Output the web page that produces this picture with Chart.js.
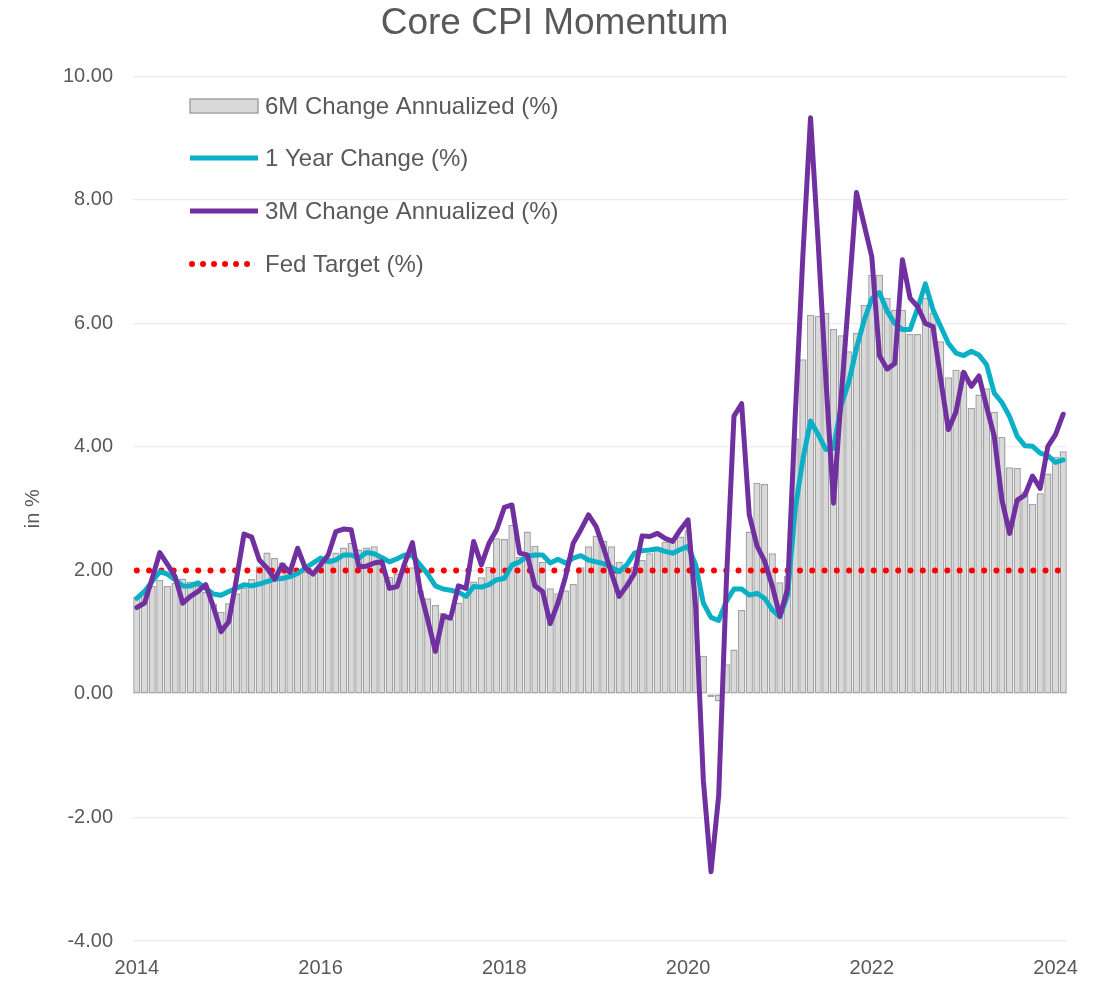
<!DOCTYPE html>
<html>
<head>
<meta charset="utf-8">
<title>Core CPI Momentum</title>
<script src="https://cdn.jsdelivr.net/npm/chart.js@4.4.1/dist/chart.umd.min.js"></script>
<style>
  html, body { margin: 0; padding: 0; background: #ffffff; }
  #wrap { width: 1109px; height: 984px; }
</style>
</head>
<body>
<div id="wrap"><canvas id="cpiChart" width="1109" height="984"></canvas></div>
<script>
// monthly readings, Feb 2014 .. Mar 2024
var startYear = 2014;
var startMonth = 2;

var sixMonth = [
  1.58, 1.62, 1.75, 1.85, 1.75, 1.80, 1.87, 1.82, 1.75, 1.65,
  1.46, 1.33, 1.47, 1.63, 1.72, 1.86, 2.07, 2.29, 2.20, 2.13,
  2.02, 2.00, 1.98, 2.00, 2.08, 2.20, 2.29, 2.37, 2.45, 2.34,
  2.37, 2.39, 2.20, 1.90, 1.95, 2.09, 2.05, 1.68, 1.55, 1.44,
  1.31, 1.21, 1.48, 1.60, 1.82, 1.89, 2.06, 2.52, 2.51, 2.74,
  2.22, 2.63, 2.40, 2.14, 1.71, 1.63, 1.68, 1.78, 2.05, 2.39,
  2.56, 2.48, 2.39, 2.14, 2.00, 2.06, 2.17, 2.28, 2.37, 2.47,
  2.49, 2.55, 2.65, 2.00, 0.62, -0.05, -0.12, 0.48, 0.72, 1.36,
  2.63, 3.42, 3.40, 2.28, 1.81, 1.91, 4.14, 5.42, 6.14, 6.12,
  6.17, 5.91, 5.81, 5.55, 5.85, 6.30, 6.79, 6.79, 6.41, 6.22,
  6.22, 5.83, 5.83, 6.41, 6.17, 5.71, 5.13, 5.25, 5.22, 4.63,
  4.85, 4.95, 4.57, 4.16, 3.67, 3.66, 3.28, 3.08, 3.25, 3.57,
  3.84, 3.93
];

var oneYear = [
  1.55, 1.66, 1.82, 1.98, 1.94, 1.85, 1.75, 1.75, 1.80, 1.71,
  1.62, 1.60, 1.66, 1.71, 1.77, 1.75, 1.78, 1.82, 1.86, 1.87,
  1.90, 1.95, 2.04, 2.12, 2.20, 2.14, 2.17, 2.25, 2.25, 2.20,
  2.29, 2.27, 2.21, 2.14, 2.19, 2.25, 2.24, 2.09, 1.94, 1.75,
  1.70, 1.68, 1.65, 1.58, 1.74, 1.73, 1.77, 1.85, 1.87, 2.09,
  2.14, 2.23, 2.25, 2.25, 2.12, 2.18, 2.12, 2.20, 2.24, 2.17,
  2.14, 2.11, 2.05, 1.98, 2.09, 2.28, 2.32, 2.33, 2.35, 2.31,
  2.28, 2.34, 2.39, 2.09, 1.47, 1.24, 1.19, 1.50, 1.70, 1.70,
  1.60, 1.63, 1.55, 1.36, 1.25, 1.60, 3.00, 3.80, 4.42, 4.20,
  3.96, 3.98, 4.67, 5.05, 5.60, 6.05, 6.40, 6.50, 6.20, 6.00,
  5.90, 5.90, 6.25, 6.64, 6.22, 5.95, 5.68, 5.52, 5.48, 5.55,
  5.49, 5.33, 4.87, 4.72, 4.49, 4.17, 4.02, 4.01, 3.90, 3.86,
  3.75, 3.79
];

var threeMonth = [
  1.40, 1.47, 1.87, 2.29, 2.10, 1.90, 1.47, 1.58, 1.66, 1.77,
  1.41, 1.01, 1.17, 1.85, 2.59, 2.54, 2.17, 2.04, 1.86, 2.09,
  1.97, 2.36, 2.04, 1.94, 2.09, 2.25, 2.63, 2.67, 2.66, 2.06,
  2.07, 2.12, 2.14, 1.71, 1.74, 2.12, 2.45, 1.68, 1.20, 0.69,
  1.26, 1.23, 1.75, 1.71, 2.47, 2.09, 2.44, 2.66, 3.02, 3.06,
  2.28, 2.25, 1.75, 1.66, 1.14, 1.47, 1.90, 2.44, 2.66, 2.90,
  2.71, 2.35, 1.96, 1.58, 1.75, 1.95, 2.56, 2.55, 2.60, 2.52,
  2.47, 2.66, 2.82, 1.40, -1.40, -2.88, -1.65, 1.80, 4.50, 4.70,
  2.90, 2.40, 2.15, 1.75, 1.26, 1.70, 4.50, 7.10, 9.33, 7.30,
  5.10, 3.09, 4.80, 6.45, 8.12, 7.60, 7.08, 5.48, 5.26, 5.35,
  7.03, 6.41, 6.27, 6.00, 5.95, 5.10, 4.28, 4.57, 5.21, 4.98,
  5.15, 4.65, 4.17, 3.14, 2.60, 3.14, 3.22, 3.53, 3.33, 4.01,
  4.20, 4.53
];

var fedTarget = 2.0;
var yTicks = [-4, -2, 0, 2, 4, 6, 8, 10];
var yearEvery = 24;

var FONT = "'Liberation Sans', Arial, sans-serif";
var GREY = "#595959";

var labels = [];
for (var i = 0; i < sixMonth.length; i++) {
  var m = startMonth - 1 + i;
  labels.push((startYear + Math.floor(m / 12)) + "-" + String(m % 12 + 1).padStart(2, "0"));
}

Chart.defaults.font.family = FONT;
Chart.defaults.color = GREY;

// legend drawn as a column inside the plot, like the original
var legendColumn = {
  id: "legendColumn",
  afterDraw: function(chart) {
    var ctx = chart.ctx;
    var x0 = 190, x1 = 258, tx = 265;
    var rowY = [106, 158, 211, 264];
    ctx.save();
    ctx.font = "24px " + FONT;
    ctx.textBaseline = "middle";
    chart.data.datasets.forEach(function(ds, k) {
      var y = rowY[k];
      if (ds.type === "bar") {
        ctx.fillStyle = ds.backgroundColor;
        ctx.fillRect(x0, y - 7, x1 - x0, 14);
        ctx.strokeStyle = ds.borderColor;
        ctx.lineWidth = 1.5;
        ctx.strokeRect(x0, y - 7, x1 - x0, 14);
      } else {
        ctx.beginPath();
        ctx.strokeStyle = ds.borderColor;
        ctx.lineWidth = ds.borderWidth;
        if (ds.borderDash) {
          ctx.lineCap = "round";
          ctx.setLineDash([0.01, 11]);
        } else {
          ctx.lineCap = "butt";
          ctx.setLineDash([]);
        }
        ctx.moveTo(x0 + (ds.borderDash ? 2 : 0), y);
        ctx.lineTo(x1, y);
        ctx.stroke();
        ctx.setLineDash([]);
      }
      ctx.fillStyle = GREY;
      ctx.fillText(ds.label, tx, y + 1);
    });
    ctx.restore();
  }
};

var ctx = document.getElementById("cpiChart").getContext("2d");

var cpiChart = new Chart(ctx, {
  type: "bar",
  data: {
    labels: labels,
    datasets: [
      {
        type: "bar",
        label: "6M Change Annualized (%)",
        data: sixMonth,
        backgroundColor: "#D9D9D9",
        borderColor: "#A3A3A3",
        borderWidth: 1.5,
        borderSkipped: false,
        barPercentage: 0.95,
        categoryPercentage: 1.0,
        order: 4
      },
      {
        type: "line",
        label: "1 Year Change (%)",
        data: oneYear,
        borderColor: "#0BB0C6",
        borderWidth: 5,
        borderJoinStyle: "round",
        borderCapStyle: "round",
        pointRadius: 0,
        tension: 0,
        fill: false,
        order: 2
      },
      {
        type: "line",
        label: "3M Change Annualized (%)",
        data: threeMonth,
        borderColor: "#7030A0",
        borderWidth: 5,
        borderJoinStyle: "round",
        borderCapStyle: "round",
        pointRadius: 0,
        tension: 0,
        fill: false,
        order: 1
      },
      {
        type: "line",
        label: "Fed Target (%)",
        data: labels.map(function() { return fedTarget; }),
        borderColor: "#FF0000",
        borderWidth: 6,
        borderDash: [0.01, 12.27],
        borderCapStyle: "round",
        pointRadius: 0,
        fill: false,
        order: 3
      }
    ]
  },
  options: {
    responsive: false,
    animation: false,
    devicePixelRatio: 1,
    layout: { padding: 0 },
    plugins: {
      legend: { display: false },
      tooltip: { enabled: false },
      title: {
        display: true,
        text: "Core CPI Momentum",
        color: GREY,
        font: { size: 37, weight: "normal" },
        padding: { top: 2, bottom: 30 }
      }
    },
    scales: {
      x: {
        offset: true,
        afterFit: function(scale) { scale.height = 43; },
        grid: { display: false, drawTicks: false },
        border: { display: false },
        ticks: {
          autoSkip: false,
          maxRotation: 0,
          minRotation: 0,
          padding: 15,
          color: GREY,
          font: { size: 20 },
          callback: function(value, index) {
            return index % yearEvery === 0 ? labels[index].slice(0, 4) : "";
          }
        }
      },
      y: {
        min: yTicks[0],
        max: yTicks[yTicks.length - 1],
        afterFit: function(scale) { scale.width = 133; },
        afterBuildTicks: function(scale) {
          scale.ticks = yTicks.map(function(v) { return { value: v }; });
        },
        grid: { color: "#ECECEC", lineWidth: 1.3, drawTicks: false },
        border: { display: false },
        ticks: {
          padding: 20,
          color: GREY,
          font: { size: 20 },
          callback: function(v) { return Number(v).toFixed(2); }
        },
        title: {
          display: true,
          text: "in %",
          color: GREY,
          font: { size: 20 },
          padding: { top: 21, bottom: 0 }
        }
      },
      // empty right-hand margin so the title stays centred on the canvas
      yMargin: {
        position: "right",
        min: yTicks[0],
        max: yTicks[yTicks.length - 1],
        afterFit: function(scale) { scale.width = 42; },
        grid: { display: false, drawTicks: false },
        border: { display: false },
        ticks: { display: false }
      }
    }
  },
  plugins: [legendColumn]
});
</script>
</body>
</html>
